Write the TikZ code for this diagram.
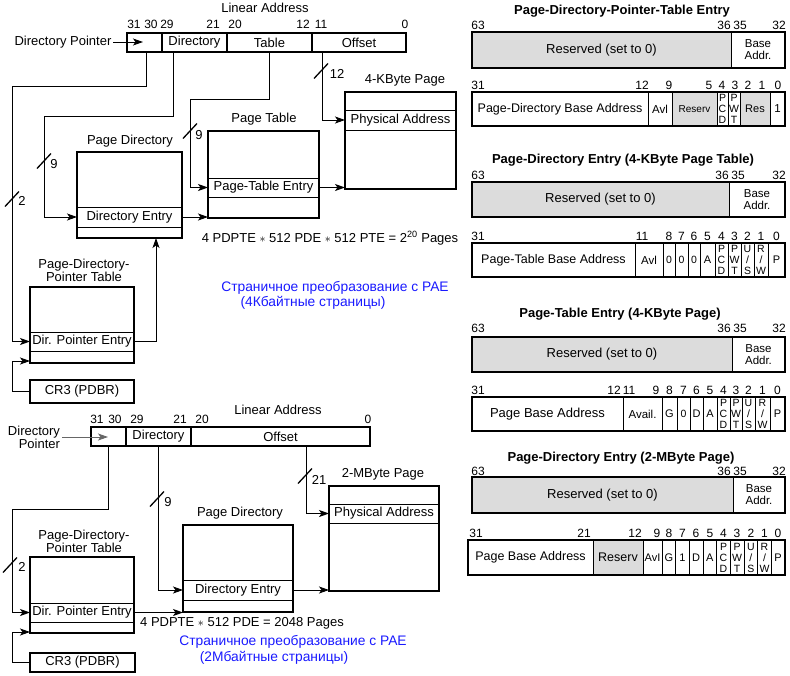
\documentclass[tikz,border=0pt]{standalone}
\usepackage{fontspec}
\setmainfont{Liberation Sans}
\usetikzlibrary{arrows.meta}
\definecolor{resgray}{RGB}{220,220,220}
\definecolor{capblue}{RGB}{25,25,255}
\newcommand\setfs[1]{\fontsize{#1}{11}\selectfont}
% \regbox{name}{x1}{y1}{x2}{y2}{style}{text}: a node filling the given rectangle
\newcommand\regbox[7]{%
  \pgfmathsetmacro\rbcx{(#2+#4)/2}\pgfmathsetmacro\rbcy{(#3+#5)/2}%
  \pgfmathsetmacro\rbw{abs(#4-#2)}\pgfmathsetmacro\rbh{abs(#5-#3)}%
  \node[#6, minimum width=\rbw pt, minimum height=\rbh pt, anchor=center] (#1) at (\rbcx,\rbcy) {#7};}

\tikzset{
  lbl/.style={font=\fontsize{13}{13}\selectfont, inner sep=0pt, outer sep=0pt},
  bit/.style={font=\fontsize{12}{12}\selectfont, inner sep=0pt, outer sep=0pt},
  ttl/.style={font=\bfseries\fontsize{13}{14}\selectfont, inner sep=0pt},
  captext/.style={text=capblue, font=\fontsize{13.8}{14}\selectfont, inner sep=0pt},
  field/.style={draw, line width=1.3pt, inner sep=0pt, outer sep=0pt, font=\fontsize{13}{13}\selectfont},
  heavybox/.style={draw, line width=2.2pt, inner sep=0pt, outer sep=0pt, font=\fontsize{13}{13}\selectfont},
  pagebox/.style={draw, line width=1.6pt, inner sep=0pt, outer sep=0pt},
  rowbox/.style={draw, line width=0.9pt, inner sep=0pt, outer sep=0pt, font=\fontsize{13}{13}\selectfont},
  cell/.style={draw, line width=0.8pt, inner sep=0pt, outer sep=0pt, align=center},
  regframe/.style={draw, line width=1.5pt, inner sep=0pt, outer sep=0pt},
  conn/.style={line width=0.9pt},
  arr/.style={conn, -{Stealth[length=10pt,width=7pt,inset=2.5pt]}},
  slash/.pic={\draw[line width=1.3pt] (-7,7.5) -- (7,-7.5);},
}

\begin{document}
\begin{tikzpicture}[x=1pt,y=-1pt]
\useasboundingbox (0,0) rectangle (790,675);

% ================= PAE paging with 4-KByte pages =================
\node[lbl] (la1-title) at (265,8) {Linear Address};
\foreach \x/\t in {134/31,151/30,167/29,213/21,235/20,303/12,321/11,405/0}
  \node[bit] (la1-b\t) at (\x,24) {\t};
\regbox{la1-dp}{127}{33}{162}{52}{field}{}
\regbox{la1-dir}{162}{33}{227}{52}{field}{Directory}
\regbox{la1-tab}{227}{33}{312}{52}{field}{Table}
\regbox{la1-off}{312}{33}{406}{52}{field}{Offset}

\node[lbl] (dp1-lbl) at (63,42) {Directory Pointer};
\coordinate (dp1-tip) at (143,42);
\draw[arr] ([xshift=2pt]dp1-lbl.east) -- (dp1-tip);

\coordinate (la1-t1) at (146,52);
\coordinate (la1-t2) at (173,52);
\coordinate (la1-t3) at (269,52);
\coordinate (la1-t4) at (322,52);

% page directory
\node[lbl] (pd1-title) at (130,141) {Page Directory};
\regbox{pd1-e}{77}{207}{182}{227}{rowbox}{Directory Entry}
\regbox{pd1}{77}{152}{182}{238}{heavybox}{}

% page table
\node[lbl] (pt1-title) at (264,119) {Page Table};
\regbox{pt1-e}{208}{178}{319}{197}{rowbox}{Page-Table Entry}
\regbox{pt1}{208}{131}{319}{218}{heavybox}{}

% 4-KByte page
\node[lbl] (pg1-title) at (405,80) {4-KByte Page};
\regbox{pg1-e}{345}{110}{456}{130}{rowbox}{Physical Address}
\regbox{pg1}{345}{92}{456}{189}{pagebox}{}

% page-directory-pointer table
\node[lbl, align=center] (pdpt1-title) at (84,270) {Page-Directory-\\Pointer Table};
\regbox{pdpt1-e}{30}{332}{134}{351}{rowbox}{Dir. Pointer Entry}
\regbox{pdpt1}{30}{287}{134}{363}{heavybox}{}

\regbox{cr3a}{30}{380}{134}{403}{heavybox}{CR3 (PDBR)}

% connectors
\draw[arr] (la1-t1) |- (12,86) |- (pdpt1-e.west);
\draw[arr] (la1-t2) |- (44,116) |- (pd1-e.west);
\draw[arr] (la1-t3) |- (190,99) |- (pt1-e.west);
\draw[arr] (la1-t4) |- (pg1-e.west);
\draw[arr] (pd1-e.east) -- (pd1-e.east -| pt1.west);
\draw[arr] (pt1-e.east) -- (pt1-e.east -| pg1.west);
\coordinate (pd1-in) at (156,238);
\draw[arr] (pdpt1-e.east) -| (pd1-in);
\coordinate (pdpt1-in) at (30,361);
\draw[arr] (cr3a.west) -| (12,361) -- (pdpt1-in);

% bus widths
\pic at (12,199) {slash};   \node[lbl] (w1a) at (22,201) {2};
\pic at (44,161) {slash};   \node[lbl] (w1b) at (54,164) {9};
\pic at (190,131) {slash};  \node[lbl] (w1c) at (199,135) {9};
\pic at (321,71) {slash};   \node[lbl] (w1d) at (337,74) {12};

\node[lbl] (calc1) at (330,238) {4 PDPTE $\ast$ 512 PDE $\ast$ 512 PTE = 2\textsuperscript{20} Pages};
\node[captext] (cap1a) at (335,288) {Страничное преобразование с PAE};
\node[captext] (cap1b) at (313,303) {(4Кбайтные страницы)};

% ================= PAE paging with 2-MByte pages =================
\node[lbl] (la2-title) at (278,410) {Linear Address};
\foreach \x/\t in {97/31,115/30,137/29,180/21,202/20,368/0}
  \node[bit] (la2-b\t) at (\x,419) {\t};
\regbox{la2-dp}{91}{427}{126}{446}{field}{}
\regbox{la2-dir}{126}{427}{191}{446}{field}{Directory}
\regbox{la2-off}{191}{427}{370}{446}{field}{Offset}

\node[lbl, align=right, font=\fontsize{13}{12}\selectfont] (dp2-lbl) at (34,437) {Directory\\Pointer};
\coordinate (dp2-tip) at (108,437);
\draw[arr, black!60] ([xshift=2pt]dp2-lbl.east) -- (dp2-tip);

\coordinate (la2-t1) at (108,446);
\coordinate (la2-t2) at (158,446);
\coordinate (la2-t3) at (306,446);

\node[lbl, align=center] (pdpt2-title) at (84,541) {Page-Directory-\\Pointer Table};
\regbox{pdpt2-e}{30}{603}{134}{622}{rowbox}{Dir. Pointer Entry}
\regbox{pdpt2}{30}{557}{134}{633}{heavybox}{}

\node[lbl] (pd2-title) at (240,513) {Page Directory};
\regbox{pd2-e}{183}{580}{293}{600}{rowbox}{Directory Entry}
\regbox{pd2}{183}{525}{293}{612}{heavybox}{}

\node[lbl] (pg2-title) at (383,474) {2-MByte Page};
\regbox{pg2-e}{329}{504}{439}{523}{rowbox}{Physical Address}
\regbox{pg2}{329}{486}{439}{591}{pagebox}{}

\regbox{cr3b}{30}{653}{135}{672}{heavybox}{CR3 (PDBR)}

\draw[arr] (la2-t1) |- (12,509) |- (pdpt2-e.west);
\draw[arr] (la2-t2) |- (pd2-e.west);
\draw[arr] (la2-t3) |- (pg2-e.west);
\draw[arr] (pd2-e.east) -- (pd2-e.east -| pg2.west);
\draw[arr] (pdpt2-e.east) -- (pdpt2-e.east -| pd2.west);
\coordinate (pdpt2-in) at (30,632);
\draw[arr] (cr3b.west) -| (12,632) -- (pdpt2-in);

\pic at (10,565) {slash};   \node[lbl] (w2a) at (22,567) {2};
\pic at (157,499) {slash};  \node[lbl] (w2b) at (168,502) {9};
\pic at (305,476) {slash};  \node[lbl] (w2c) at (319,480) {21};

\node[lbl] (calc2) at (242,623) {4 PDPTE $\ast$ 512 PDE = 2048 Pages};
\node[captext] (cap2a) at (293,642) {Страничное преобразование с PAE};
\node[captext] (cap2b) at (274,658) {(2Мбайтные страницы)};

% ================= entry formats =================
% --- page-directory-pointer-table entry
\node[ttl] (ta-title) at (622,11) {Page-Directory-Pointer-Table Entry};
\foreach \x/\t [count=\i] in {478/63,724/36,740/35,779/32}
  \node[bit] (ta-h\i) at (\x,25) {\t};
\regbox{ta-res}{472}{32}{731}{68}{cell, fill=resgray, font=\setfs{13}}{Reserved (set to 0)}
\regbox{ta-base}{731}{32}{785}{68}{cell, font=\fontsize{11.5}{12}\selectfont}{Base\\Addr.}
\regbox{ta-hi}{472}{32}{785}{68}{regframe}{}
\foreach \x/\t [count=\i] in {478/31,642/12,669/9,709/5,722/4,735/3,748/2,762/1,778/0}
  \node[bit] (ta-l\i) at (\x,85) {\t};
\foreach \a/\b/\f/\s/\t [count=\i] in {472/648/white/12.5/{Page-Directory Base Address},
    648/672/white/11.5/{Avl}, 672/717/resgray/10/{Reserv}, 717/728/white/10.5/{P\\C\\D},
    728/740/white/10.5/{P\\W\\T}, 740/770/resgray/11/{Res}, 770/785/white/11.5/{1}}
  {\regbox{ta-c\i}{\a}{92}{\b}{126}{cell, fill=\f, font=\setfs{\s}}{\t}}
\regbox{ta-lo}{472}{92}{785}{126}{regframe}{}

% --- page-directory entry, 4-KByte page table
\node[ttl] (tb-title) at (623,160) {Page-Directory Entry (4-KByte Page Table)};
\foreach \x/\t [count=\i] in {478/63,722/36,738/35,779/32}
  \node[bit] (tb-h\i) at (\x,175) {\t};
\regbox{tb-res}{472}{182}{729}{217}{cell, fill=resgray, font=\setfs{13}}{Reserved (set to 0)}
\regbox{tb-base}{729}{182}{785}{217}{cell, font=\fontsize{11.5}{12}\selectfont}{Base\\Addr.}
\regbox{tb-hi}{472}{182}{785}{217}{regframe}{}
\foreach \x/\t [count=\i] in {478/31,642/11,669/8,681.5/7,694/6,707.5/5,721.5/4,734.5/3,747.5/2,761/1,776.5/0}
  \node[bit] (tb-l\i) at (\x,236) {\t};
\foreach \a/\b/\f/\s/\t [count=\i] in {472/635/white/12.5/{Page-Table Base Address},
    635/663/white/11.5/{Avl}, 663/675/white/10.5/{0}, 675/688/white/10.5/{0}, 688/700/white/10.5/{0},
    700/715/white/11/{A}, 715/728/white/10.5/{P\\C\\D}, 728/741/white/10.5/{P\\W\\T},
    741/754/white/10.5/{U\\/\\S}, 754/768/white/10.5/{R\\/\\W}, 768/785/white/11/{P}}
  {\regbox{tb-c\i}{\a}{243}{\b}{277}{cell, fill=\f, font=\setfs{\s}}{\t}}
\regbox{tb-lo}{472}{243}{785}{277}{regframe}{}

% --- page-table entry, 4-KByte page
\node[ttl] (tc-title) at (620,314) {Page-Table Entry (4-KByte Page)};
\foreach \x/\t [count=\i] in {478/63,724/36,740/35,779/32}
  \node[bit] (tc-h\i) at (\x,328) {\t};
\regbox{tc-res}{472}{337}{732}{372}{cell, fill=resgray, font=\setfs{13}}{Reserved (set to 0)}
\regbox{tc-base}{732}{337}{785}{372}{cell, font=\fontsize{11.5}{12}\selectfont}{Base\\Addr.}
\regbox{tc-hi}{472}{337}{785}{372}{regframe}{}
\foreach \x/\t [count=\i] in {478/31,614/12,629/11,656/9,669.5/8,683.5/7,696.5/6,710/5,723.5/4,736/3,748.5/2,762.5/1,777.5/0}
  \node[bit] (tc-l\i) at (\x,390) {\t};
\foreach \a/\b/\f/\s/\t [count=\i] in {472/623/white/13/{Page Base Address},
    623/662/white/11.5/{Avail.}, 662/677/white/11/{G}, 677/690/white/10.5/{0}, 690/703/white/11/{D},
    703/717/white/11/{A}, 717/730/white/10.5/{P\\C\\D}, 730/742/white/10.5/{P\\W\\T},
    742/755/white/10.5/{U\\/\\S}, 755/770/white/10.5/{R\\/\\W}, 770/785/white/11/{P}}
  {\regbox{tc-c\i}{\a}{397}{\b}{431}{cell, fill=\f, font=\setfs{\s}}{\t}}
\regbox{tc-lo}{472}{397}{785}{431}{regframe}{}

% --- page-directory entry, 2-MByte page
\node[ttl] (td-title) at (621,458) {Page-Directory Entry (2-MByte Page)};
\foreach \x/\t [count=\i] in {478/63,724/36,740/35,779/32}
  \node[bit] (td-h\i) at (\x,471) {\t};
\regbox{td-res}{472}{477}{733}{513}{cell, fill=resgray, font=\setfs{13}}{Reserved (set to 0)}
\regbox{td-base}{733}{477}{785}{513}{cell, font=\fontsize{11.5}{12}\selectfont}{Base\\Addr.}
\regbox{td-hi}{472}{477}{785}{513}{regframe}{}
\foreach \x/\t [count=\i] in {476/31,584/21,635/12,657/9,669/8,682.5/7,696/6,710/5,723.5/4,737/3,751/2,764.5/1,778/0}
  \node[bit] (td-l\i) at (\x,533) {\t};
\foreach \a/\b/\f/\s/\t [count=\i] in {468/593/white/12.5/{Page Base Address},
    593/643/resgray/12.5/{Reserv}, 643/662/white/11/{AvI}, 662/675.7/white/11/{G},
    675.7/689.3/white/11/{1}, 689.3/703/white/11/{D}, 703/716.7/white/11/{A},
    716.7/730.3/white/10.5/{P\\C\\D}, 730.3/744/white/10.5/{P\\W\\T},
    744/757.7/white/10.5/{U\\/\\S}, 757.7/771.3/white/10.5/{R\\/\\W}, 771.3/785/white/11/{P}}
  {\regbox{td-c\i}{\a}{540}{\b}{575}{cell, fill=\f, font=\setfs{\s}}{\t}}
\regbox{td-lo}{468}{540}{785}{575}{regframe}{}

\end{tikzpicture}
\end{document}
